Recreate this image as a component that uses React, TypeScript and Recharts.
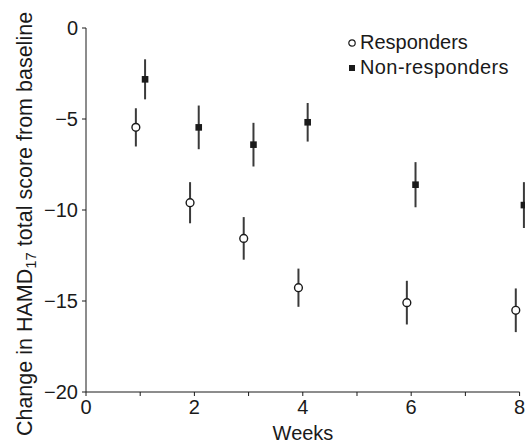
import React from 'react';
import { ScatterChart, Scatter, XAxis, YAxis, ErrorBar, ReferenceLine, Legend } from 'recharts';

const weekTicks = [0, 1, 2, 3, 4, 5, 6, 7, 8];
const scoreTicks = [-20, -15, -10, -5, 0];

const respWeeks = [0.92, 1.92, 2.91, 3.92, 5.92, 7.93];
const respScores = [-5.46, -9.6, -11.56, -14.27, -15.09, -15.51];
const respErr = [1.05, 1.13, 1.17, 1.05, 1.2, 1.2];

const nonWeeks = [1.09, 2.08, 3.09, 4.09, 6.08, 8.08];
const nonScores = [-2.82, -5.46, -6.41, -5.18, -8.61, -9.73];
const nonErr = [1.1, 1.2, 1.2, 1.06, 1.24, 1.26];

const responders = respWeeks.map((w, i) => ({ week: w, score: respScores[i], err: respErr[i] }));
const nonResponders = nonWeeks.map((w, i) => ({ week: w, score: nonScores[i], err: nonErr[i] }));

const FONT = '"Liberation Sans", Arial, Helvetica, sans-serif';
const INK = '#1a1a1a';

const CircleShape = (props: any) => {
  const { cx, cy } = props;
  if (cx == null || cy == null) return null;
  return <circle cx={cx} cy={cy} r={3.9} fill="#fff" stroke={INK} strokeWidth={1.4} />;
};

const SquareShape = (props: any) => {
  const { cx, cy } = props;
  if (cx == null || cy == null) return null;
  return <rect x={cx - 3.3} y={cy - 3.3} width={6.6} height={6.6} fill={INK} />;
};

const fmtScore = (v: number) => (v < 0 ? '\u2212' + Math.abs(v) : String(v));
const fmtWeek = (v: number) => (v % 2 === 0 ? String(v) : '');

const YLabel = () => (
  <text
    x={25}
    y={224}
    transform="rotate(-90, 25, 224)"
    textAnchor="middle"
    dominantBaseline="central"
    fontFamily={FONT}
    fontSize={21.5}
    fill={INK}
  >
    <tspan>Change in HAMD</tspan>
    <tspan fontSize={15} dy={5}>17</tspan>
    <tspan dy={-5}> total score from baseline</tspan>
  </text>
);

const XLabel = () => (
  <text x={303} y={433} textAnchor="middle" dominantBaseline="central" fontFamily={FONT} fontSize={20} fill={INK}>
    Weeks
  </text>
);

const LegendContent = () => (
  <div style={{ fontFamily: FONT, fontSize: 20, color: INK, lineHeight: '25px', whiteSpace: 'nowrap' }}>
    <div style={{ display: 'flex', alignItems: 'center' }}>
      <svg width={16} height={12} style={{ display: 'block' }}>
        <circle cx={8} cy={6} r={3.2} fill="#fff" stroke={INK} strokeWidth={1.2} />
      </svg>
      <span>Responders</span>
    </div>
    <div style={{ display: 'flex', alignItems: 'center' }}>
      <svg width={16} height={12} style={{ display: 'block' }}>
        <rect x={5} y={3} width={6} height={6} fill={INK} />
      </svg>
      <span style={{ letterSpacing: '0.4px' }}>Non-responders</span>
    </div>
  </div>
);

export default function App() {
  return (
    <div style={{ position: 'absolute', left: 0, top: 0 }}>
      <ScatterChart width={525} height={445} margin={{ top: 28, right: 0, bottom: 0, left: 0 }}>
        <XAxis
          type="number"
          dataKey="week"
          domain={[0, 8.1]}
          ticks={weekTicks}
          tickFormatter={fmtWeek}
          axisLine={false}
          tickLine={{ stroke: INK }}
          tickSize={4}
          tickMargin={4}
          height={53}
          tick={{ fill: INK, fontSize: 20, fontFamily: FONT }}
          label={<XLabel />}
        />
        <YAxis
          type="number"
          dataKey="score"
          domain={[-20, 0]}
          ticks={scoreTicks}
          tickFormatter={fmtScore}
          axisLine={{ stroke: INK }}
          tickLine={{ stroke: INK }}
          tickSize={4}
          tickMargin={4}
          width={86}
          tick={{ fill: INK, fontSize: 20, fontFamily: FONT }}
          label={<YLabel />}
        />
        <ReferenceLine segment={[{ x: 0, y: -20 }, { x: 8, y: -20 }]} stroke={INK} strokeWidth={1} />
        <Legend
          content={<LegendContent />}
          layout="horizontal"
          verticalAlign="middle"
          align="center"
          wrapperStyle={{ left: 344, top: 30, width: 'auto', height: 'auto' }}
        />
        <Scatter name="Responders" data={responders} shape={<CircleShape />} isAnimationActive={false}>
          <ErrorBar dataKey="err" direction="y" width={0} stroke="#3a3a3a" strokeWidth={2} />
        </Scatter>
        <Scatter name="Non-responders" data={nonResponders} shape={<SquareShape />} isAnimationActive={false}>
          <ErrorBar dataKey="err" direction="y" width={0} stroke="#3a3a3a" strokeWidth={2} />
        </Scatter>
      </ScatterChart>
    </div>
  );
}
